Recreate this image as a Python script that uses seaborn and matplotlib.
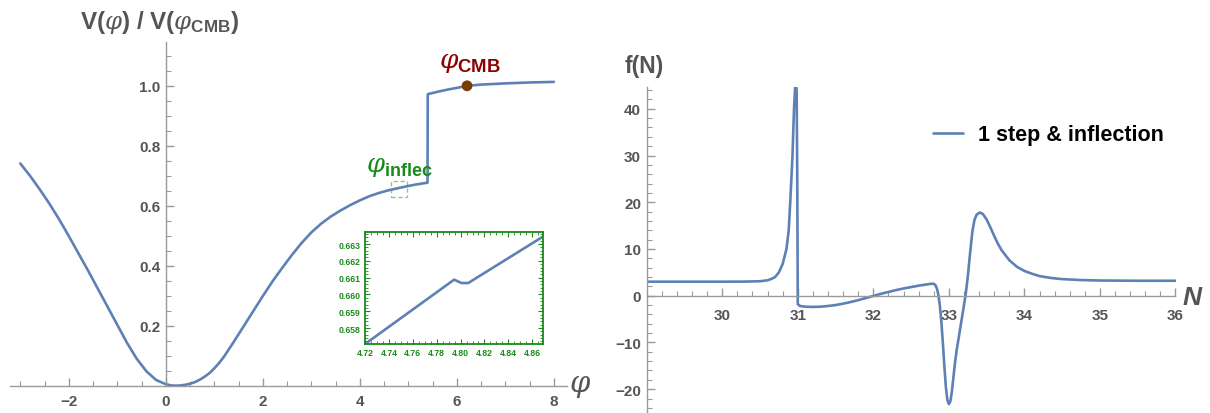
import numpy as np
import pandas as pd
import matplotlib
matplotlib.use("Agg")
import matplotlib.pyplot as plt
import seaborn as sns
from matplotlib.ticker import MultipleLocator, FixedLocator, FormatStrFormatter
from matplotlib.patches import Rectangle

# ---------------- data ----------------
phi = [-3.0, -2.8, -2.6, -2.4, -2.2, -2.0, -1.8, -1.6, -1.4, -1.2, -1.0, -0.8,
       -0.6, -0.4, -0.2, 0.0, 0.1, 0.2, 0.3, 0.4, 0.5, 0.6, 0.7, 0.8, 0.9, 1.0,
       1.1, 1.2, 1.4, 1.6, 1.8, 2.0, 2.2, 2.4, 2.6, 2.8, 3.0, 3.2, 3.4, 3.6, 3.8,
       4.0, 4.2, 4.4, 4.6, 4.8, 5.0, 5.2, 5.395, 5.40, 5.6, 5.8, 6.0, 6.21, 6.5,
       7.0, 7.5, 8.0]
V = [0.741, 0.700, 0.655, 0.607, 0.555, 0.499, 0.441, 0.383, 0.323, 0.263,
     0.203, 0.143, 0.090, 0.048, 0.019, 0.005, 0.0012, 0.0, 0.0008, 0.003,
     0.0065, 0.012, 0.020, 0.030, 0.042, 0.058, 0.076, 0.097, 0.146, 0.197,
     0.248, 0.299, 0.348, 0.393, 0.436, 0.476, 0.511, 0.540, 0.564, 0.584,
     0.602, 0.618, 0.632, 0.643, 0.652, 0.659, 0.666, 0.672, 0.677, 0.972,
     0.980, 0.987, 0.993, 1.000, 1.004, 1.008, 1.011, 1.013]

inset_phi = [4.715, 4.7946, 4.8008, 4.8064, 4.875]
inset_V = [0.65679, 0.66088, 0.66068, 0.66068, 0.66371]

cmb_phi = [6.21]
cmb_V = [1.0]

N = [29.0, 29.5, 30.0, 30.3, 30.5, 30.6, 30.65, 30.7, 30.75, 30.8, 30.85,
     30.88, 30.9, 30.93, 30.95, 30.97, 30.985, 30.993, 31.0, 31.03, 31.1,
     31.2, 31.3, 31.4, 31.5, 31.6, 31.7, 31.8, 31.9, 32.0, 32.1, 32.2, 32.3,
     32.4, 32.5, 32.6, 32.7, 32.76, 32.8, 32.82, 32.84, 32.86, 32.88, 32.9,
     32.92, 32.94, 32.96, 32.98, 33.0, 33.02, 33.04, 33.06, 33.08, 33.1, 33.15,
     33.2, 33.22, 33.25, 33.28, 33.31, 33.34, 33.37, 33.41, 33.45, 33.5, 33.55,
     33.6, 33.65, 33.7, 33.8, 33.9, 34.0, 34.1, 34.2, 34.35, 34.5, 34.75, 35.0,
     35.5, 36.0]
fN = [3.0, 3.0, 3.0, 3.02, 3.1, 3.3, 3.6, 4.0, 5.0, 6.8, 10.0,
      14.0, 20.0, 30.0, 40.0, 46.0, 44.0, 25.0, -1.8, -2.2, -2.35,
      -2.4, -2.35, -2.2, -2.0, -1.7, -1.35, -0.95, -0.5, -0.05, 0.4, 0.8, 1.2,
      1.55, 1.85, 2.15, 2.4, 2.55, 2.55, 2.3, 1.6, 0.3, -2.0, -5.5,
      -10.0, -15.0, -19.5, -22.3, -23.2, -22.6, -20.5, -17.5, -14.5, -12.0, -7.0,
      -2.0, 0.0, 4.0, 9.0, 13.6, 16.3, 17.4, 17.8, 17.5, 16.3, 14.6,
      12.8, 11.1, 9.7, 7.6, 6.2, 5.3, 4.7, 4.2, 3.8, 3.55, 3.35, 3.25,
      3.2, 3.2]

legend_label = "1 step & inflection"

# ---------------- style ----------------
sns.set_theme(style="white")
plt.rcParams["font.family"] = ["Liberation Sans", "DejaVu Sans"]
plt.rcParams["font.weight"] = "bold"
plt.rcParams["mathtext.fontset"] = "custom"
plt.rcParams["mathtext.rm"] = "Liberation Sans:weight=normal"
plt.rcParams["mathtext.bf"] = "Liberation Sans:weight=bold"
plt.rcParams["mathtext.it"] = "DejaVu Serif:style=italic:weight=normal"
plt.rcParams["mathtext.sf"] = "Liberation Sans:weight=normal"

W, H = 1210, 414
LINE = "#5E81B5"
AX = "#9a9a9a"
TXT = "#555555"
GREEN = "#1a8a1a"

fig = plt.figure(figsize=(W / 100, H / 100), dpi=100)


def fx(px):
    return px / W


def fy(py):
    return 1 - py / H


def style_axis(ax):
    for s in ["top", "right"]:
        ax.spines[s].set_visible(False)
    for s in ["left", "bottom"]:
        ax.spines[s].set_color(AX)
        ax.spines[s].set_linewidth(1.0)
    ax.tick_params(which="both", bottom=True, left=True, top=False, right=False)
    ax.tick_params(which="major", direction="in", length=6, width=1, color=AX,
                   labelcolor=TXT, labelsize=11, pad=4)
    ax.tick_params(which="minor", direction="in", length=3.5, width=0.8, color=AX)
    ax.set_facecolor("none")


# ---------------- left panel ----------------
axL = fig.add_axes([fx(9.6), 1 - 386.7 / H, fx(567 - 9.6), (386.7 - 43.3) / H])
dfL = pd.DataFrame({"phi": phi, "V": V})
sns.lineplot(data=dfL, x="phi", y="V", ax=axL, color=LINE, lw=1.9,
             sort=False, estimator=None)
sns.scatterplot(x=cmb_phi, y=cmb_V, ax=axL, color="#7a3c00", s=60,
                edgecolor="none", zorder=5)
axL.set_xlim(-3.22, 8.27)
axL.set_ylim(0, 1.145)
style_axis(axL)
axL.spines["left"].set_position(("data", 0))
axL.xaxis.set_major_locator(FixedLocator([-2, 0, 2, 4, 6, 8]))
axL.xaxis.set_minor_locator(MultipleLocator(0.5))
axL.yaxis.set_major_locator(FixedLocator([0.2, 0.4, 0.6, 0.8, 1.0]))
axL.yaxis.set_minor_locator(MultipleLocator(0.05))
axL.set_xticklabels(["\u22122", "0", "2", "4", "6", "8"])
axL.set_yticklabels(["0.2", "0.4", "0.6", "0.8", "1.0"])
axL.tick_params(axis="x", pad=6)
axL.set_xlabel("")
axL.set_ylabel("")
for line in axL.lines:
    line.set_clip_on(False)
axL.add_patch(Rectangle((4.633, 0.630), 0.342, 0.053, fill=False,
                        edgecolor="#8cc98c", lw=1.0, ls=(0, (3, 2))))

fig.text(fx(80), fy(23), r"V($\varphi$) / V($\varphi_{\mathbf{CMB}}$)",
         fontsize=17.5, color=TXT, ha="left", va="center")
fig.text(fx(580), fy(386), r"$\varphi$", fontsize=21, color=TXT,
         ha="center", va="center")
fig.text(fx(470), fy(63), r"$\varphi_{\mathbf{CMB}}$", fontsize=19,
         color="#8B0000", ha="center", va="center")
fig.text(fx(366), fy(167), r"$\varphi_{\mathbf{inflec}}$", fontsize=18.5,
         color=GREEN, ha="left", va="center")

# ---------------- inset ----------------
axI = fig.add_axes([fx(365), 1 - 345 / H, fx(543 - 365), (345 - 233.3) / H])
dfI = pd.DataFrame({"phi": inset_phi, "V": inset_V})
sns.lineplot(data=dfI, x="phi", y="V", ax=axI, color=LINE, lw=1.9,
             sort=False, estimator=None)
axI.set_xlim(4.72, 4.869)
axI.set_ylim(0.65705, 0.6637)
axI.set_xlabel("")
axI.set_ylabel("")
for s in axI.spines.values():
    s.set_color(GREEN)
    s.set_linewidth(1.3)
    s.set_visible(True)
axI.xaxis.set_major_locator(MultipleLocator(0.02))
axI.xaxis.set_minor_locator(MultipleLocator(0.005))
axI.yaxis.set_major_locator(MultipleLocator(0.001))
axI.yaxis.set_minor_locator(MultipleLocator(0.0002))
axI.tick_params(which="both", direction="in", top=True, right=True,
                bottom=True, left=True,
                color=GREEN, labelcolor=GREEN, labelsize=6.2, pad=3)
axI.tick_params(which="major", length=3.5, width=0.8)
axI.tick_params(which="minor", length=2, width=0.6)
axI.xaxis.set_major_formatter(FormatStrFormatter("%.2f"))
axI.yaxis.set_major_formatter(FormatStrFormatter("%.3f"))
axI.set_facecolor("white")

# ---------------- right panel ----------------
axR = fig.add_axes([fx(646.7), 0.0, fx(1175.5 - 646.7), (H - 88.3) / H])
dfR = pd.DataFrame({"N": N, "f": fN, "series": legend_label})
sns.lineplot(data=dfR, x="N", y="f", hue="series", palette=[LINE], ax=axR,
             lw=1.9, sort=False, estimator=None)
axR.set_xlim(29, 36)
axR.set_ylim(-25.1, 44.6)
style_axis(axR)
axR.spines["bottom"].set_position(("data", 0))
axR.xaxis.set_major_locator(FixedLocator([30, 31, 32, 33, 34, 35, 36]))
axR.xaxis.set_minor_locator(MultipleLocator(0.2))
axR.yaxis.set_major_locator(FixedLocator([-20, -10, 0, 10, 20, 30, 40]))
axR.yaxis.set_minor_locator(MultipleLocator(2))
axR.tick_params(axis="x", pad=9)
axR.set_xlabel("")
axR.set_ylabel("")
leg = axR.legend(loc="center left", bbox_to_anchor=(fx(933), fy(136)),
                 bbox_transform=fig.transFigure, frameon=False, fontsize=15.5,
                 handlelength=1.4, handletextpad=0.7, borderpad=0, borderaxespad=0)
for t in leg.get_texts():
    t.set_color("black")
    t.set_fontweight("bold")
for l in leg.get_lines():
    l.set_linewidth(1.9)

fig.text(fx(625), fy(67), "f(N)", fontsize=16.5, color=TXT, ha="left", va="center")
fig.text(fx(1192), fy(298), "N", fontsize=19, color=TXT, ha="center",
         va="center", fontstyle="italic")

fig.savefig("out.png", dpi=100)
